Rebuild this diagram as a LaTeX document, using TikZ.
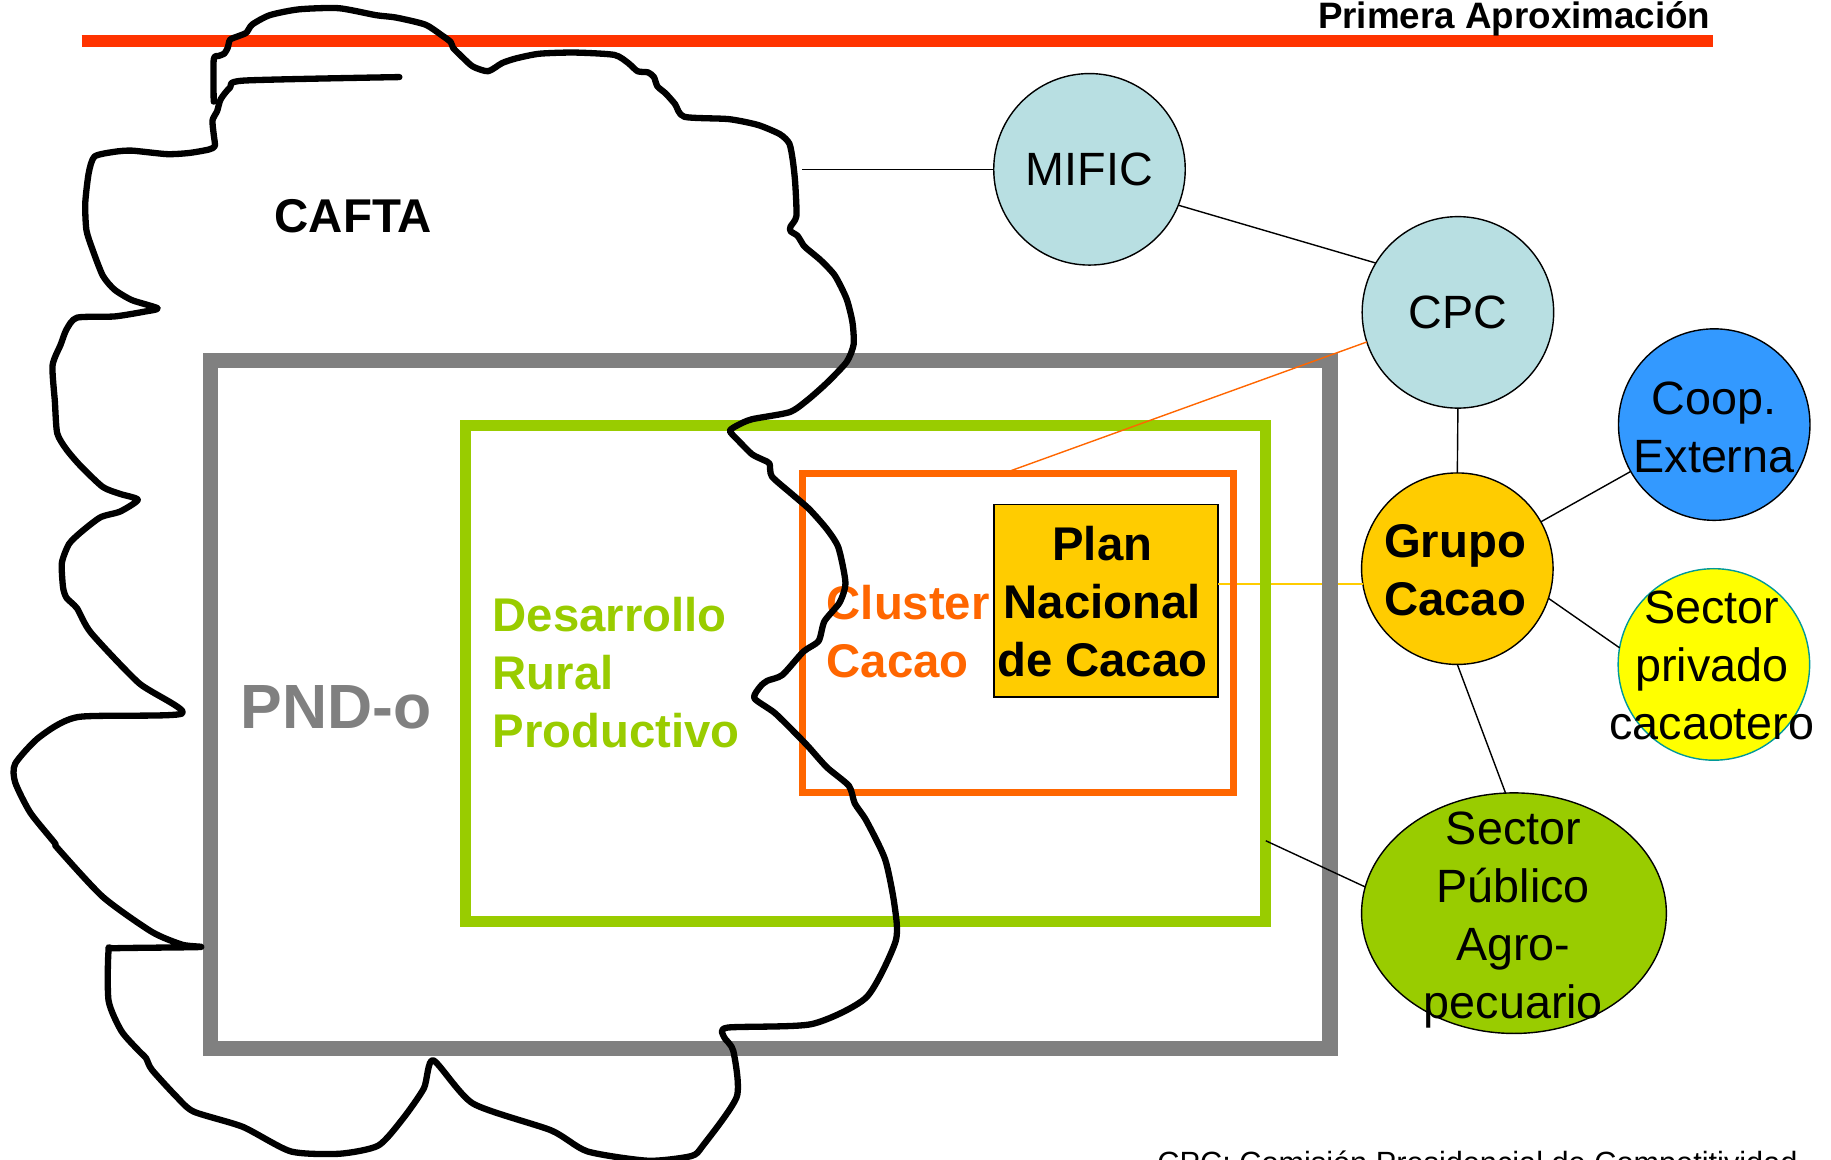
\documentclass[tikz,border=0pt]{standalone}
\usepackage{fontspec}
\setmainfont{Liberation Sans}
\usetikzlibrary{shapes.geometric}
\definecolor{redline}{HTML}{FF3300}
\definecolor{pndgray}{HTML}{808080}
\definecolor{drgreen}{HTML}{99CC00}
\definecolor{clorange}{HTML}{FF6600}
\definecolor{goldfill}{HTML}{FFCC00}
\definecolor{lightteal}{HTML}{B8DFE2}
\definecolor{coopblue}{HTML}{3399FF}
\definecolor{brightyellow}{HTML}{FFFF00}
\definecolor{tealborder}{HTML}{009999}
\newcommand{\fsz}[2]{\fontsize{#1}{#2}\selectfont}
\begin{document}
\begin{tikzpicture}[x=1pt,y=-1pt,
  frame/.style={draw, rectangle, inner sep=0pt, outer sep=0pt},
  bubble/.style={draw=black, line width=1.2pt, circle, minimum size=164pt, inner sep=0pt, outer sep=0pt},
  lbl/.style={align=center, inner sep=0pt, outer sep=0pt},
  conn/.style={line width=1.2pt, draw=black},
  bigtxt/.style={font=\fsz{40}{49.5}},
  bigbold/.style={font=\bfseries\fsz{40.5}{49.5}},
]
\useasboundingbox (0,0) rectangle (1568,993);

% header rule and title
\draw[redline, line width=10.5pt] (70,35) -- (1467,35);
\node[anchor=base east, inner sep=0pt, font=\bfseries\fsz{31.5}{36}] (title) at (1465,24) {Primera Aproximación};

% plan box and grupo circle (gold connector under the frames)
\node[frame, fill=goldfill, draw=black, line width=1.5pt, minimum width=192pt, minimum height=165pt] (plan) at (947,514.5) {};
\node[bubble, fill=goldfill] (grupo) at (1248,487) {};
\draw[goldfill, line width=1.5pt] (grupo.189) -- (grupo.189 -| plan.east);

% nested frames
\node[frame, draw=pndgray, line width=13pt, minimum width=959pt, minimum height=589pt] (pnd) at (659.5,603.5) {};
\node[frame, draw=drgreen, line width=9.5pt, minimum width=685pt, minimum height=424.5pt] (drp) at (741.5,576.75) {};
\node[frame, draw=clorange, line width=6pt, minimum width=369pt, minimum height=273.5pt] (clu) at (871.5,542.25) {};

% frame texts
\node[lbl, bigbold] (plant) at (944,515) {Plan\\Nacional\\de Cacao};
\node[lbl, bigbold, align=left, anchor=west, text=clorange] (clut) at (708,541) {Cluster\\Cacao};
\node[lbl, bigbold, align=left, anchor=west, text=drgreen] (drpt) at (422,576) {Desarrollo\\Rural\\Productivo};
\node[anchor=base west, inner sep=0pt, text=pndgray, font=\bfseries\fsz{53.5}{60}] (pndt) at (206,624) {PND-o};
\node[anchor=base west, inner sep=0pt, font=\bfseries\fsz{40.6}{48}] (cafta) at (235,199.5) {CAFTA};

% circles
\node[bubble, fill=lightteal, bigtxt] (mific) at (933,145) {MIFIC};
\node[bubble, fill=lightteal, bigtxt] (cpc) at (1248.5,267.5) {CPC};
\node[lbl, bigbold] (grupot) at (1246,488) {Grupo\\Cacao};
\node[bubble, fill=coopblue] (coop) at (1468,363.6) {};
\node[lbl, bigtxt] (coopt) at (1467.8,366) {Coop.\\Externa};
\node[bubble, fill=brightyellow, draw=tealborder] (spc) at (1467.7,569) {};
\node[lbl, bigtxt] (spct) at (1466,570) {Sector\\privado\\cacaotero};
\node[draw=black, line width=1.2pt, ellipse, fill=drgreen, minimum width=261pt, minimum height=206pt, inner sep=0pt, outer sep=0pt] (spa) at (1296.5,782) {};
\node[lbl, bigtxt] (spat) at (1296,788) {Sector\\Público\\Agro-\\pecuario};

% connectors
\coordinate (caftaedge) at (687,145);
\coordinate (clutop) at (859,405.5);
\coordinate (drpedge) at (1084,720);
\draw[conn] (mific.west) -- (caftaedge);
\draw[conn] (mific.338) -- (cpc.149);
\draw[clorange, line width=1.2pt] (cpc.198) -- (clutop);
\draw[conn] (cpc.south) -- (grupo.north);
\draw[conn] (grupo) -- (coop);
\draw[conn] (grupo.342) -- (spc.170);
\draw[conn] (grupo.south) -- (spa.94);
\draw[conn] (spa.170) -- (drpedge);

% CAFTA cloud outline
\draw[line width=5.4pt, line join=round, line cap=round] plot[smooth, tension=0.4] coordinates {
(342,66) (209,69) (197,75) (189,85) (186,95) (182,103) (183,115) (184,125) (179,128) (162,131) (143,132) (113,129) (98,130) (81,134) (76,148) (73,174) (74,197) (79,213) (88,236) (98,248) (113,257) (135,264) (123,267) (98,271) (66,272) (57,282) (52,295) (45,313) (47,344) (49,371) (57,385) (69,399) (88,417) (103,423) (118,428) (103,438) (86,443) (69,456) (59,466) (53,482) (54,503) (57,512) (66,521) (78,542) (119,585) (156,611) (67,614) (34,631) (13,654) (13,670) (26,696) (47,722) (49,726) (88,768) (130,798) (156,809) (171,811) (99,812) (93,814) (93,857) (104,883) (119,900) (125,906) (130,916) (151,939) (166,952) (208,965) (249,986) (291,988) (324,981) (345,958) (363,932) (371,908) (405,945) (472,968) (503,986) (555,994) (592,990) (602,981) (631,939) (628,900) (620,888) (623,880) (695,877) (742,854) (767,806) (766,775) (758,736) (742,703) (732,688) (727,673) (708,657) (690,637) (664,611) (646,598) (651,588) (657,583) (670,578) (688,558) (701,549) (706,532) (719,516) (724,499) (718,469) (708,453) (693,436) (678,423) (661,408) (659,397) (654,394) (644,389) (632,377) (625,369) (632,364) (644,359) (676,353) (691,343) (708,328) (725,310) (731,295) (730,276) (725,256) (715,236) (703,223) (691,213) (688,210) (683,202) (677,198) (677,194) (682,185) (681,157) (679,138) (676,123) (668,115) (649,107) (624,102) (586,100) (578,89) (570,80) (563,74) (560,66) (555,62) (546,61) (538,54) (526,47) (492,45) (462,46) (442,50) (430,54) (418,61) (405,57) (396,49) (388,41) (386,36) (378,30) (364,21) (339,15) (322,13) (290,7) (256,8) (231,13) (216,21) (211,28) (204,31) (197,34) (195,41) (192,46) (187,48) (183,51) (183,87)};

% footnote (cut by the page edge, as in the reference)
\node[anchor=base west, inner sep=0pt, font=\fsz{26.3}{30}] (foot) at (991,1005) {CPC: Comisión Presidencial de Competitividad};
\end{tikzpicture}
\end{document}
